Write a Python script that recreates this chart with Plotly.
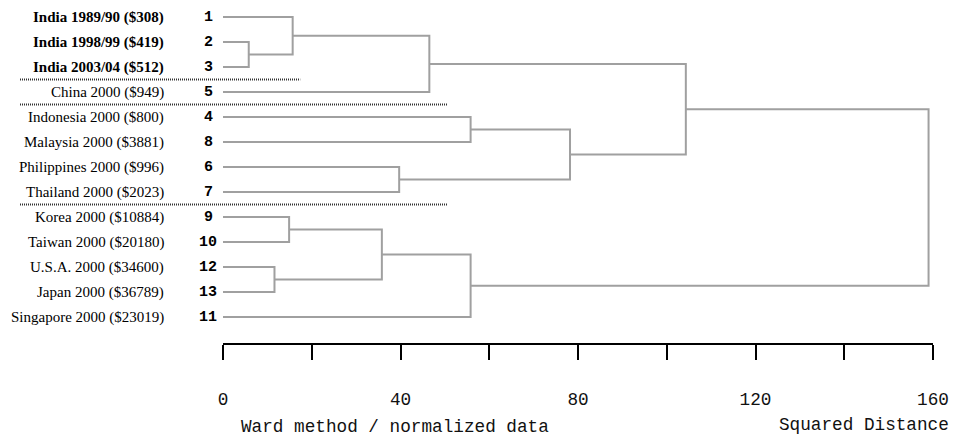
import plotly.graph_objects as go

# Cases in the order they appear down the tree
case_ids = [1, 2, 3, 5, 4, 8, 6, 7, 9, 10, 12, 13, 11]
case_labels = [
    "India 1989/90 ($308)",
    "India 1998/99 ($419)",
    "India 2003/04 ($512)",
    "China 2000 ($949)",
    "Indonesia 2000 ($800)",
    "Malaysia 2000 ($3881)",
    "Philippines 2000 ($996)",
    "Thailand 2000 ($2023)",
    "Korea 2000 ($10884)",
    "Taiwan 2000 ($20180)",
    "U.S.A. 2000 ($34600)",
    "Japan 2000 ($36789)",
    "Singapore 2000 ($23019)",
]
bold_cases = [1, 2, 3]

# Ward linkage: clusters 14.. are formed in order from (link_a, link_b) at link_h
link_a = [2, 12, 9, 1, 16, 6, 17, 4, 18, 21, 20, 24]
link_b = [3, 13, 10, 14, 15, 7, 5, 8, 11, 19, 23, 22]
link_h = [5.8, 11.6, 14.9, 15.7, 35.8, 39.7, 46.5, 55.8, 55.8, 78.2, 104.3, 159.0]

# Group boundaries (drawn after these positions in the leaf order)
group_breaks = [2.5, 3.5, 7.5]
group_break_ends = [17.4, 50.5, 50.5]

x_ticks = [0, 20, 40, 60, 80, 100, 120, 140, 160]
x_tick_text = ["0", "", "40", "", "80", "", "120", "", "160"]

# ---- build dendrogram segments from the linkage ----
pos = {c: i for i, c in enumerate(case_ids)}
height = {c: 0.0 for c in case_ids}
xs, ys = [], []
next_id = len(case_ids) + 1
for a, b, h in zip(link_a, link_b, link_h):
    ya, yb = pos[a], pos[b]
    xs += [height[a], h, h, height[b], None]
    ys += [ya, ya, yb, yb, None]
    pos[next_id] = (ya + yb) / 2
    height[next_id] = h
    next_id += 1

fig = go.Figure()
fig.add_trace(go.Scatter(
    x=xs, y=ys, mode="lines",
    line=dict(color="#a0a0a0", width=2),
    hoverinfo="skip", showlegend=False,
))

W, H = 959, 444
L, R, T, B = 223, 26, 0, 101
plot_w = W - L - R

def paper_x(px):
    return (px - L) / plot_w

annotations = []
for i, (cid, lab) in enumerate(zip(case_ids, case_labels)):
    txt = f"<b>{lab}</b>" if cid in bold_cases else lab
    annotations.append(dict(
        text=txt, xref="paper", yref="y", x=paper_x(166), y=i,
        xanchor="right", yanchor="middle", showarrow=False,
        font=dict(family="Liberation Serif", size=15, color="#000"),
    ))
    annotations.append(dict(
        text=f"<b>{cid}</b>", xref="paper", yref="y", x=paper_x(208), y=i,
        xanchor="center", yanchor="middle", showarrow=False,
        font=dict(family="Liberation Mono", size=15, color="#000"),
    ))

annotations.append(dict(
    text="Ward method / normalized data", xref="paper", yref="paper",
    x=paper_x(239), y=(343 - 427) / 343, xanchor="left", yanchor="middle",
    showarrow=False, font=dict(family="Liberation Mono", size=17.7, color="#111"),
))
annotations.append(dict(
    text="Squared Distance", xref="paper", yref="paper",
    x=paper_x(951), y=(343 - 425) / 343, xanchor="right", yanchor="middle",
    showarrow=False, font=dict(family="Liberation Mono", size=17.7, color="#111"),
))

shapes = []
for yb, xe in zip(group_breaks, group_break_ends):
    shapes.append(dict(
        type="line", xref="paper", yref="y",
        x0=paper_x(20), x1=paper_x(L + xe * plot_w / 160), y0=yb, y1=yb,
        line=dict(color="#333", width=2, dash="1px,1px"),
    ))

fig.update_layout(
    width=W, height=H,
    margin=dict(l=L, r=R, t=T, b=B),
    paper_bgcolor="white", plot_bgcolor="white",
    showlegend=False,
    annotations=annotations, shapes=shapes,
    xaxis=dict(
        range=[0, 160], showgrid=False, zeroline=False,
        showline=True, linecolor="#000", linewidth=2,
        ticks="outside", ticklen=15, tickwidth=2, tickcolor="#000",
        tickvals=x_ticks, ticktext=x_tick_text,
        ticklabelstandoff=24,
        tickfont=dict(family="Liberation Mono", size=17.7, color="#111"),
    ),
    yaxis=dict(
        range=[(343 - 17) / 25, -17 / 25], visible=False,
    ),
)

fig.write_html("out.html")
